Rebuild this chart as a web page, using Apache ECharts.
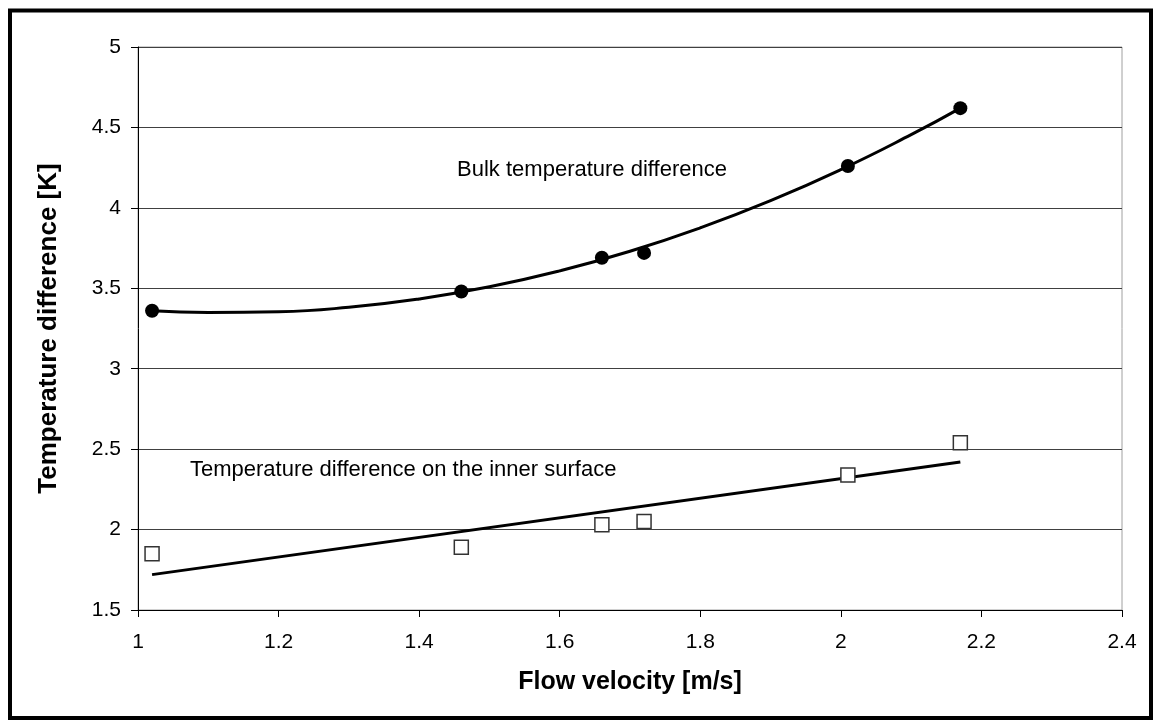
<!DOCTYPE html>
<html>
<head>
<meta charset="utf-8">
<script src="https://cdn.jsdelivr.net/npm/echarts@6/dist/echarts.min.js"></script>
<style>
html,body{margin:0;padding:0;background:#fff;}
#chart{width:1153px;height:720px;}
</style>
</head>
<body>
<div id="chart"></div>
<script>
// Measured data
const velocity = [1.02, 1.46, 1.66, 1.72, 2.01, 2.17];
const bulkDiff = [3.36, 3.48, 3.69, 3.72, 4.26, 4.62];
const innerDiff = [1.85, 1.89, 2.03, 2.05, 2.34, 2.54];
// Trend lines
const bulkFitX = [1.02, 1.1, 1.2, 1.3, 1.4, 1.5, 1.6, 1.7, 1.8, 1.9, 2.0, 2.1, 2.17];
const bulkFitY = [3.36, 3.349, 3.354, 3.382, 3.434, 3.509, 3.608, 3.73, 3.876, 4.045, 4.238, 4.455, 4.62];
const innerFitX = [1.02, 2.17];
const innerFitY = [1.72, 2.42];
// Axis ticks
const xTicks = [1, 1.2, 1.4, 1.6, 1.8, 2, 2.2, 2.4];
const yTicks = [1.5, 2, 2.5, 3, 3.5, 4, 4.5, 5];
const labelBulk = 'Bulk temperature difference';
const labelInner = 'Temperature difference on the inner surface';

const zip = (a, b) => a.map((v, i) => [v, b[i]]);
const chart = echarts.init(document.getElementById('chart'));
const FONT = 'Liberation Sans, Arial, sans-serif';
chart.setOption({
  animation: false,
  backgroundColor: '#fff',
  grid: {left: 138, right: 31, top: 47, bottom: 110, show: true, borderColor: '#a0a0a0', borderWidth: 1},
  xAxis: {
    type: 'value', min: xTicks[0], max: xTicks[xTicks.length - 1], interval: 0.2,
    name: 'Flow velocity [m/s]', nameLocation: 'middle', nameGap: 60,
    nameTextStyle: {fontFamily: FONT, fontSize: 25, fontWeight: 'bold', color: '#000'},
    axisLine: {lineStyle: {color: '#000', width: 1}},
    axisTick: {show: true, inside: false, length: 7, lineStyle: {color: '#000'}},
    axisLabel: {margin: 22, fontFamily: FONT, fontSize: 21, color: '#000',
      formatter: v => String(Math.round(v * 10) / 10)},
    splitLine: {show: false}
  },
  yAxis: {
    type: 'value', min: yTicks[0], max: yTicks[yTicks.length - 1], interval: 0.5,
    name: 'Temperature difference [K]', nameLocation: 'middle', nameGap: 76,
    nameTextStyle: {fontFamily: FONT, fontSize: 26, fontWeight: 'bold', color: '#000'},
    axisLine: {show: true, lineStyle: {color: '#000', width: 1}},
    axisTick: {show: true, inside: false, length: 7, lineStyle: {color: '#000'}},
    axisLabel: {margin: 17, fontFamily: FONT, fontSize: 21, color: '#000'},
    splitLine: {show: true, lineStyle: {color: '#404040', width: 1}}
  },
  series: [
    {type: 'line', data: zip(bulkFitX, bulkFitY), smooth: true, showSymbol: false,
      lineStyle: {color: '#000', width: 3}, z: 2},
    {type: 'line', data: zip(innerFitX, innerFitY), showSymbol: false,
      lineStyle: {color: '#000', width: 3}, z: 2},
    {type: 'scatter', data: zip(velocity, bulkDiff), symbol: 'circle', symbolSize: 14,
      itemStyle: {color: '#000', opacity: 1}, z: 3},
    {type: 'scatter', data: zip(velocity, innerDiff), symbol: 'rect', symbolSize: 14,
      itemStyle: {color: '#fff', borderColor: '#333', borderWidth: 1.5, opacity: 1}, z: 3}
  ],
  graphic: [
    {type: 'rect', shape: {x: 10, y: 10.5, width: 1141, height: 707.5},
      style: {fill: 'none', stroke: '#000', lineWidth: 4}, z: 100},
    {type: 'text', x: 592, y: 170, style: {text: labelBulk, font: '22px ' + FONT, fill: '#000',
      textAlign: 'center', textVerticalAlign: 'middle'}},
    {type: 'text', x: 190, y: 470, style: {text: labelInner, font: '22px ' + FONT, fill: '#000',
      textAlign: 'left', textVerticalAlign: 'middle'}}
  ]
});
</script>
</body>
</html>
